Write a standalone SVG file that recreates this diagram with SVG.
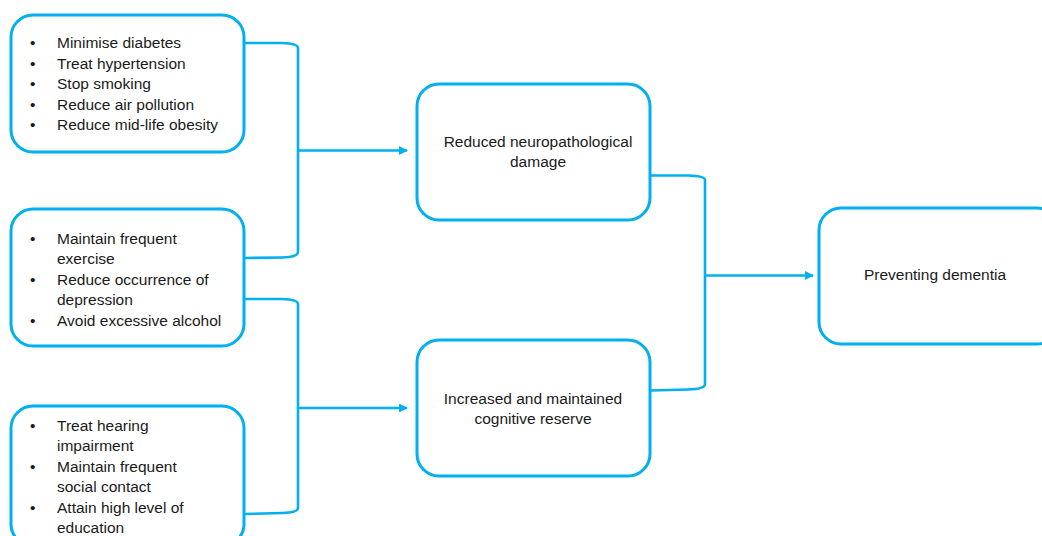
<svg xmlns="http://www.w3.org/2000/svg" width="1042" height="536" viewBox="0 0 1042 536">
  <defs>
    <marker id="arrow" viewBox="0 0 10 10" refX="9" refY="5" markerWidth="3.4" markerHeight="3.4" markerUnits="strokeWidth" orient="auto">
      <path d="M0,0 L10,5 L0,10 Z" fill="#00B0F0"/>
    </marker>
  </defs>
  <style>
    .box { fill: #ffffff; stroke: #00B0F0; stroke-width: 3; }
    .wire { fill: none; stroke: #00B0F0; stroke-width: 2.6; }
    .lbl { font-family: "Liberation Sans", Arial, sans-serif; font-size: 15.5px; fill: #1a1a1a; }
    .mid { text-anchor: middle; }
  </style>
  <rect width="1042" height="536" fill="#ffffff"/>

  <!-- connectors -->
  <g id="connectors">
    <path class="wire" d="M244,43 L282,43 Q298,43.5 298,48 V252 Q298,257 282,257.5 L244,258"/>
    <path class="wire" d="M298,150.5 H407" marker-end="url(#arrow)"/>
    <path class="wire" d="M244,299 L282,299 Q298,299.5 298,304 V508 Q298,512.5 282,513 L244,514"/>
    <path class="wire" d="M298,408 H407" marker-end="url(#arrow)"/>
    <path class="wire" d="M650,175.5 L688,175.5 Q705,176 705,180 V384 Q705,389 688,389.5 L650,390.5"/>
    <path class="wire" d="M705,275.5 H813" marker-end="url(#arrow)"/>
  </g>

  <!-- risk factor group 1 -->
  <g id="risk-vascular">
    <rect class="box" x="11" y="15" width="233" height="137" rx="22"/>
    <g class="lbl">
      <text x="30" y="48">•</text><text x="57" y="48">Minimise diabetes</text>
      <text x="30" y="68.5">•</text><text x="57" y="68.5">Treat hypertension</text>
      <text x="30" y="89">•</text><text x="57" y="89">Stop smoking</text>
      <text x="30" y="109.5">•</text><text x="57" y="109.5">Reduce air pollution</text>
      <text x="30" y="130">•</text><text x="57" y="130">Reduce mid-life obesity</text>
    </g>
  </g>

  <!-- risk factor group 2 -->
  <g id="risk-lifestyle">
    <rect class="box" x="11" y="209" width="233" height="137" rx="22"/>
    <g class="lbl">
      <text x="30" y="243.5">•</text><text x="57" y="243.5">Maintain frequent</text>
      <text x="57" y="264">exercise</text>
      <text x="30" y="284.5">•</text><text x="57" y="284.5">Reduce occurrence of</text>
      <text x="57" y="305">depression</text>
      <text x="30" y="325.5">•</text><text x="57" y="325.5">Avoid excessive alcohol</text>
    </g>
  </g>

  <!-- risk factor group 3 -->
  <g id="risk-cognitive">
    <rect class="box" x="11" y="406" width="233" height="140" rx="22"/>
    <g class="lbl">
      <text x="30" y="430.5">•</text><text x="57" y="430.5">Treat hearing</text>
      <text x="57" y="451">impairment</text>
      <text x="30" y="471.5">•</text><text x="57" y="471.5">Maintain frequent</text>
      <text x="57" y="492">social contact</text>
      <text x="30" y="512.5">•</text><text x="57" y="512.5">Attain high level of</text>
      <text x="57" y="533">education</text>
    </g>
  </g>

  <!-- mechanism: neuropathology -->
  <g id="reduced-damage">
    <rect class="box" x="417" y="84" width="233" height="136" rx="22"/>
    <text class="lbl mid" x="538" y="146.5">Reduced neuropathological</text>
    <text class="lbl mid" x="538" y="167">damage</text>
  </g>

  <!-- mechanism: cognitive reserve -->
  <g id="cognitive-reserve">
    <rect class="box" x="417" y="340" width="233" height="136" rx="22"/>
    <text class="lbl mid" x="533" y="403.5">Increased and maintained</text>
    <text class="lbl mid" x="533" y="424">cognitive reserve</text>
  </g>

  <!-- outcome -->
  <g id="preventing-dementia">
    <rect class="box" x="819" y="208" width="240" height="136" rx="22"/>
    <text class="lbl mid" x="935" y="279.5">Preventing dementia</text>
  </g>
</svg>
